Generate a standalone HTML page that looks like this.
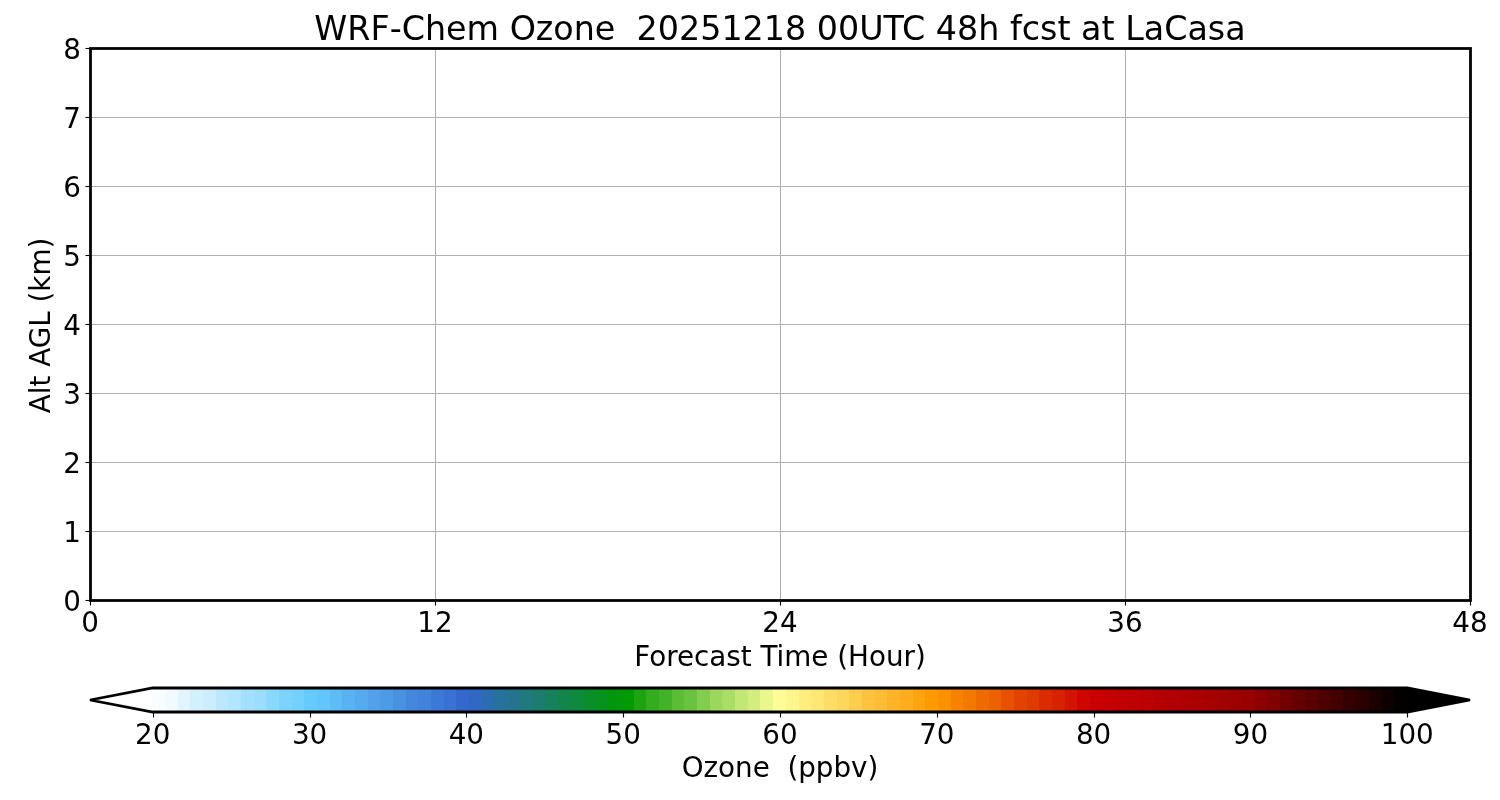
<!DOCTYPE html>
<html lang="en"><head><meta charset="utf-8"><title>WRF-Chem Ozone forecast at LaCasa</title>
<style>
html,body{margin:0;padding:0;background:#fff;}
body{width:1500px;height:800px;overflow:hidden;}
svg{display:block;}
text{font-family:"DejaVu Sans","Liberation Sans",sans-serif;fill:#000;}
.t20{font-size:27.78px;}
.t24{font-size:33.33px;}
.pre{white-space:pre;}
.grid line{stroke:#b0b0b0;stroke-width:1.11;}
.tick line{stroke:#000;stroke-width:1.11;}
</style></head><body>
<svg width="1500" height="800" viewBox="0 0 1500 800">
<rect x="0" y="0" width="1500" height="800" fill="#ffffff"/>
<g class="grid">
<line x1="90.50" y1="48.00" x2="90.50" y2="600.00"/>
<line x1="435.50" y1="48.00" x2="435.50" y2="600.00"/>
<line x1="780.50" y1="48.00" x2="780.50" y2="600.00"/>
<line x1="1125.50" y1="48.00" x2="1125.50" y2="600.00"/>
<line x1="1470.50" y1="48.00" x2="1470.50" y2="600.00"/>
<line x1="90.00" y1="600.50" x2="1470.00" y2="600.50"/>
<line x1="90.00" y1="531.50" x2="1470.00" y2="531.50"/>
<line x1="90.00" y1="462.50" x2="1470.00" y2="462.50"/>
<line x1="90.00" y1="393.50" x2="1470.00" y2="393.50"/>
<line x1="90.00" y1="324.50" x2="1470.00" y2="324.50"/>
<line x1="90.00" y1="255.50" x2="1470.00" y2="255.50"/>
<line x1="90.00" y1="186.50" x2="1470.00" y2="186.50"/>
<line x1="90.00" y1="117.50" x2="1470.00" y2="117.50"/>
<line x1="90.00" y1="48.50" x2="1470.00" y2="48.50"/>
</g>
<g class="tick">
<line x1="90.50" y1="600.50" x2="90.50" y2="605.50"/>
<line x1="435.50" y1="600.50" x2="435.50" y2="605.50"/>
<line x1="780.50" y1="600.50" x2="780.50" y2="605.50"/>
<line x1="1125.50" y1="600.50" x2="1125.50" y2="605.50"/>
<line x1="1470.50" y1="600.50" x2="1470.50" y2="605.50"/>
<line x1="85.50" y1="600.50" x2="90.50" y2="600.50"/>
<line x1="85.50" y1="531.50" x2="90.50" y2="531.50"/>
<line x1="85.50" y1="462.50" x2="90.50" y2="462.50"/>
<line x1="85.50" y1="393.50" x2="90.50" y2="393.50"/>
<line x1="85.50" y1="324.50" x2="90.50" y2="324.50"/>
<line x1="85.50" y1="255.50" x2="90.50" y2="255.50"/>
<line x1="85.50" y1="186.50" x2="90.50" y2="186.50"/>
<line x1="85.50" y1="117.50" x2="90.50" y2="117.50"/>
<line x1="85.50" y1="48.50" x2="90.50" y2="48.50"/>
</g>
<rect x="90.50" y="48.50" width="1380.00" height="552.00" fill="none" stroke="#000" stroke-width="2.78"/>
<text class="t24 pre" x="780" y="40.00" text-anchor="middle" xml:space="preserve">WRF-Chem Ozone  20251218 00UTC 48h fcst at LaCasa</text>
<text class="t20" x="90.00" y="631.70" text-anchor="middle">0</text>
<text class="t20" x="435.00" y="631.70" text-anchor="middle">12</text>
<text class="t20" x="780.00" y="631.70" text-anchor="middle">24</text>
<text class="t20" x="1125.00" y="631.70" text-anchor="middle">36</text>
<text class="t20" x="1470.00" y="631.70" text-anchor="middle">48</text>
<text class="t20" x="81.00" y="611.10" text-anchor="end">0</text>
<text class="t20" x="81.00" y="542.10" text-anchor="end">1</text>
<text class="t20" x="81.00" y="473.10" text-anchor="end">2</text>
<text class="t20" x="81.00" y="404.10" text-anchor="end">3</text>
<text class="t20" x="81.00" y="335.10" text-anchor="end">4</text>
<text class="t20" x="81.00" y="266.10" text-anchor="end">5</text>
<text class="t20" x="81.00" y="197.10" text-anchor="end">6</text>
<text class="t20" x="81.00" y="128.10" text-anchor="end">7</text>
<text class="t20" x="81.00" y="59.10" text-anchor="end">8</text>
<text class="t20" x="780" y="666.30" text-anchor="middle">Forecast Time (Hour)</text>
<text class="t20" transform="translate(50.00,325.5) rotate(-90)" text-anchor="middle">Alt AGL (km)</text>
<g>
<polygon points="90.00,700 153.23,688.00 153.23,712.00" fill="#ffffff"/>
<rect x="152.00" y="688.00" width="1255.27" height="24.00" fill="#fafdff"/>
<rect x="165.00" y="688.00" width="1242.27" height="24.00" fill="#f0faff"/>
<rect x="178.00" y="688.00" width="1229.27" height="24.00" fill="#e2f5ff"/>
<rect x="190.00" y="688.00" width="1217.27" height="24.00" fill="#d3f0ff"/>
<rect x="203.00" y="688.00" width="1204.27" height="24.00" fill="#caedff"/>
<rect x="216.00" y="688.00" width="1191.27" height="24.00" fill="#bbe8ff"/>
<rect x="228.00" y="688.00" width="1179.27" height="24.00" fill="#b2e5ff"/>
<rect x="241.00" y="688.00" width="1166.27" height="24.00" fill="#a3e0ff"/>
<rect x="254.00" y="688.00" width="1153.27" height="24.00" fill="#9addff"/>
<rect x="266.00" y="688.00" width="1141.27" height="24.00" fill="#8bd8ff"/>
<rect x="279.00" y="688.00" width="1128.27" height="24.00" fill="#7dd3ff"/>
<rect x="292.00" y="688.00" width="1115.27" height="24.00" fill="#73d0ff"/>
<rect x="304.00" y="688.00" width="1103.27" height="24.00" fill="#65cbfe"/>
<rect x="317.00" y="688.00" width="1090.27" height="24.00" fill="#62c5fb"/>
<rect x="330.00" y="688.00" width="1077.27" height="24.00" fill="#5dbbf6"/>
<rect x="342.00" y="688.00" width="1065.27" height="24.00" fill="#59b2f2"/>
<rect x="355.00" y="688.00" width="1052.27" height="24.00" fill="#55abee"/>
<rect x="368.00" y="688.00" width="1039.27" height="24.00" fill="#51a2ea"/>
<rect x="380.00" y="688.00" width="1027.27" height="24.00" fill="#4d9be6"/>
<rect x="393.00" y="688.00" width="1014.27" height="24.00" fill="#4992e2"/>
<rect x="406.00" y="688.00" width="1001.27" height="24.00" fill="#4488dd"/>
<rect x="418.00" y="688.00" width="989.27" height="24.00" fill="#4182da"/>
<rect x="431.00" y="688.00" width="976.27" height="24.00" fill="#3c78d5"/>
<rect x="444.00" y="688.00" width="963.27" height="24.00" fill="#3972d2"/>
<rect x="456.00" y="688.00" width="951.27" height="24.00" fill="#3468cd"/>
<rect x="469.00" y="688.00" width="938.27" height="24.00" fill="#3168c4"/>
<rect x="482.00" y="688.00" width="925.27" height="24.00" fill="#2c6cb0"/>
<rect x="494.00" y="688.00" width="913.27" height="24.00" fill="#27719d"/>
<rect x="507.00" y="688.00" width="900.27" height="24.00" fill="#247490"/>
<rect x="520.00" y="688.00" width="887.27" height="24.00" fill="#1f797d"/>
<rect x="532.00" y="688.00" width="875.27" height="24.00" fill="#1c7c70"/>
<rect x="545.00" y="688.00" width="862.27" height="24.00" fill="#17815d"/>
<rect x="558.00" y="688.00" width="849.27" height="24.00" fill="#12864a"/>
<rect x="570.00" y="688.00" width="837.27" height="24.00" fill="#0f893d"/>
<rect x="583.00" y="688.00" width="824.27" height="24.00" fill="#0a8e2a"/>
<rect x="596.00" y="688.00" width="811.27" height="24.00" fill="#07911d"/>
<rect x="608.00" y="688.00" width="799.27" height="24.00" fill="#02960a"/>
<rect x="621.00" y="688.00" width="786.27" height="24.00" fill="#029a01"/>
<rect x="634.00" y="688.00" width="773.27" height="24.00" fill="#1ba310"/>
<rect x="646.00" y="688.00" width="761.27" height="24.00" fill="#33ad1e"/>
<rect x="659.00" y="688.00" width="748.27" height="24.00" fill="#42b328"/>
<rect x="672.00" y="688.00" width="735.27" height="24.00" fill="#5bbd36"/>
<rect x="684.00" y="688.00" width="723.27" height="24.00" fill="#6ac340"/>
<rect x="697.00" y="688.00" width="710.27" height="24.00" fill="#83cd4e"/>
<rect x="710.00" y="688.00" width="697.27" height="24.00" fill="#9bd75d"/>
<rect x="722.00" y="688.00" width="685.27" height="24.00" fill="#aadd66"/>
<rect x="735.00" y="688.00" width="672.27" height="24.00" fill="#c3e774"/>
<rect x="748.00" y="688.00" width="659.27" height="24.00" fill="#d3ed7e"/>
<rect x="760.00" y="688.00" width="647.27" height="24.00" fill="#eaf78c"/>
<rect x="773.00" y="688.00" width="634.27" height="24.00" fill="#fffd96"/>
<rect x="786.00" y="688.00" width="621.27" height="24.00" fill="#fff78d"/>
<rect x="799.00" y="688.00" width="608.27" height="24.00" fill="#ffed7e"/>
<rect x="811.00" y="688.00" width="596.27" height="24.00" fill="#ffe775"/>
<rect x="824.00" y="688.00" width="583.27" height="24.00" fill="#ffdd66"/>
<rect x="837.00" y="688.00" width="570.27" height="24.00" fill="#ffd65c"/>
<rect x="849.00" y="688.00" width="558.27" height="24.00" fill="#ffcd4e"/>
<rect x="862.00" y="688.00" width="545.27" height="24.00" fill="#ffc340"/>
<rect x="875.00" y="688.00" width="532.27" height="24.00" fill="#ffbd36"/>
<rect x="887.00" y="688.00" width="520.27" height="24.00" fill="#ffb328"/>
<rect x="900.00" y="688.00" width="507.27" height="24.00" fill="#ffad1e"/>
<rect x="913.00" y="688.00" width="494.27" height="24.00" fill="#ffa310"/>
<rect x="925.00" y="688.00" width="482.27" height="24.00" fill="#ff9a01"/>
<rect x="938.00" y="688.00" width="469.27" height="24.00" fill="#fc9100"/>
<rect x="951.00" y="688.00" width="456.27" height="24.00" fill="#f78200"/>
<rect x="963.00" y="688.00" width="444.27" height="24.00" fill="#f47900"/>
<rect x="976.00" y="688.00" width="431.27" height="24.00" fill="#ef6a00"/>
<rect x="989.00" y="688.00" width="418.27" height="24.00" fill="#ec6100"/>
<rect x="1001.00" y="688.00" width="406.27" height="24.00" fill="#e75200"/>
<rect x="1014.00" y="688.00" width="393.27" height="24.00" fill="#e24400"/>
<rect x="1027.00" y="688.00" width="380.27" height="24.00" fill="#df3a00"/>
<rect x="1039.00" y="688.00" width="368.27" height="24.00" fill="#da2c00"/>
<rect x="1052.00" y="688.00" width="355.27" height="24.00" fill="#d72200"/>
<rect x="1065.00" y="688.00" width="342.27" height="24.00" fill="#d21400"/>
<rect x="1077.00" y="688.00" width="330.27" height="24.00" fill="#ce0500"/>
<rect x="1090.00" y="688.00" width="317.27" height="24.00" fill="#ca0000"/>
<rect x="1103.00" y="688.00" width="304.27" height="24.00" fill="#c60000"/>
<rect x="1115.00" y="688.00" width="292.27" height="24.00" fill="#c20000"/>
<rect x="1128.00" y="688.00" width="279.27" height="24.00" fill="#be0000"/>
<rect x="1141.00" y="688.00" width="266.27" height="24.00" fill="#ba0000"/>
<rect x="1153.00" y="688.00" width="254.27" height="24.00" fill="#b60000"/>
<rect x="1166.00" y="688.00" width="241.27" height="24.00" fill="#b10000"/>
<rect x="1179.00" y="688.00" width="228.27" height="24.00" fill="#ae0000"/>
<rect x="1191.00" y="688.00" width="216.27" height="24.00" fill="#a90000"/>
<rect x="1204.00" y="688.00" width="203.27" height="24.00" fill="#a60000"/>
<rect x="1217.00" y="688.00" width="190.27" height="24.00" fill="#a10000"/>
<rect x="1229.00" y="688.00" width="178.27" height="24.00" fill="#9c0000"/>
<rect x="1242.00" y="688.00" width="165.27" height="24.00" fill="#990000"/>
<rect x="1255.00" y="688.00" width="152.27" height="24.00" fill="#8b0000"/>
<rect x="1267.00" y="688.00" width="140.27" height="24.00" fill="#810000"/>
<rect x="1280.00" y="688.00" width="127.27" height="24.00" fill="#730000"/>
<rect x="1293.00" y="688.00" width="114.27" height="24.00" fill="#640000"/>
<rect x="1305.00" y="688.00" width="102.27" height="24.00" fill="#5b0000"/>
<rect x="1318.00" y="688.00" width="89.27" height="24.00" fill="#4c0000"/>
<rect x="1331.00" y="688.00" width="76.27" height="24.00" fill="#430000"/>
<rect x="1343.00" y="688.00" width="64.27" height="24.00" fill="#340000"/>
<rect x="1356.00" y="688.00" width="51.27" height="24.00" fill="#2b0000"/>
<rect x="1369.00" y="688.00" width="38.27" height="24.00" fill="#1c0000"/>
<rect x="1381.00" y="688.00" width="26.27" height="24.00" fill="#0e0000"/>
<rect x="1394.00" y="688.00" width="13.27" height="24.00" fill="#040000"/>
<polygon points="1470.00,700 1406.77,688.00 1406.77,712.00" fill="#000000"/>
</g>
<polygon points="90.00,700 152.73,688.00 1407.27,688.00 1470.00,700 1407.27,712.00 152.73,712.00" fill="none" stroke="#000" stroke-width="2.78" stroke-linejoin="miter"/>
<g class="tick">
<line x1="153.50" y1="712.50" x2="153.50" y2="717.50"/>
<line x1="310.50" y1="712.50" x2="310.50" y2="717.50"/>
<line x1="466.50" y1="712.50" x2="466.50" y2="717.50"/>
<line x1="623.50" y1="712.50" x2="623.50" y2="717.50"/>
<line x1="780.50" y1="712.50" x2="780.50" y2="717.50"/>
<line x1="937.50" y1="712.50" x2="937.50" y2="717.50"/>
<line x1="1094.50" y1="712.50" x2="1094.50" y2="717.50"/>
<line x1="1250.50" y1="712.50" x2="1250.50" y2="717.50"/>
<line x1="1407.50" y1="712.50" x2="1407.50" y2="717.50"/>
</g>
<text class="t20" x="152.73" y="743.70" text-anchor="middle">20</text>
<text class="t20" x="309.55" y="743.70" text-anchor="middle">30</text>
<text class="t20" x="466.36" y="743.70" text-anchor="middle">40</text>
<text class="t20" x="623.18" y="743.70" text-anchor="middle">50</text>
<text class="t20" x="780.00" y="743.70" text-anchor="middle">60</text>
<text class="t20" x="936.82" y="743.70" text-anchor="middle">70</text>
<text class="t20" x="1093.64" y="743.70" text-anchor="middle">80</text>
<text class="t20" x="1250.45" y="743.70" text-anchor="middle">90</text>
<text class="t20" x="1407.27" y="743.70" text-anchor="middle">100</text>
<text class="t20 pre" x="780" y="777.30" text-anchor="middle" xml:space="preserve">Ozone  (ppbv)</text>
</svg>
</body></html>
